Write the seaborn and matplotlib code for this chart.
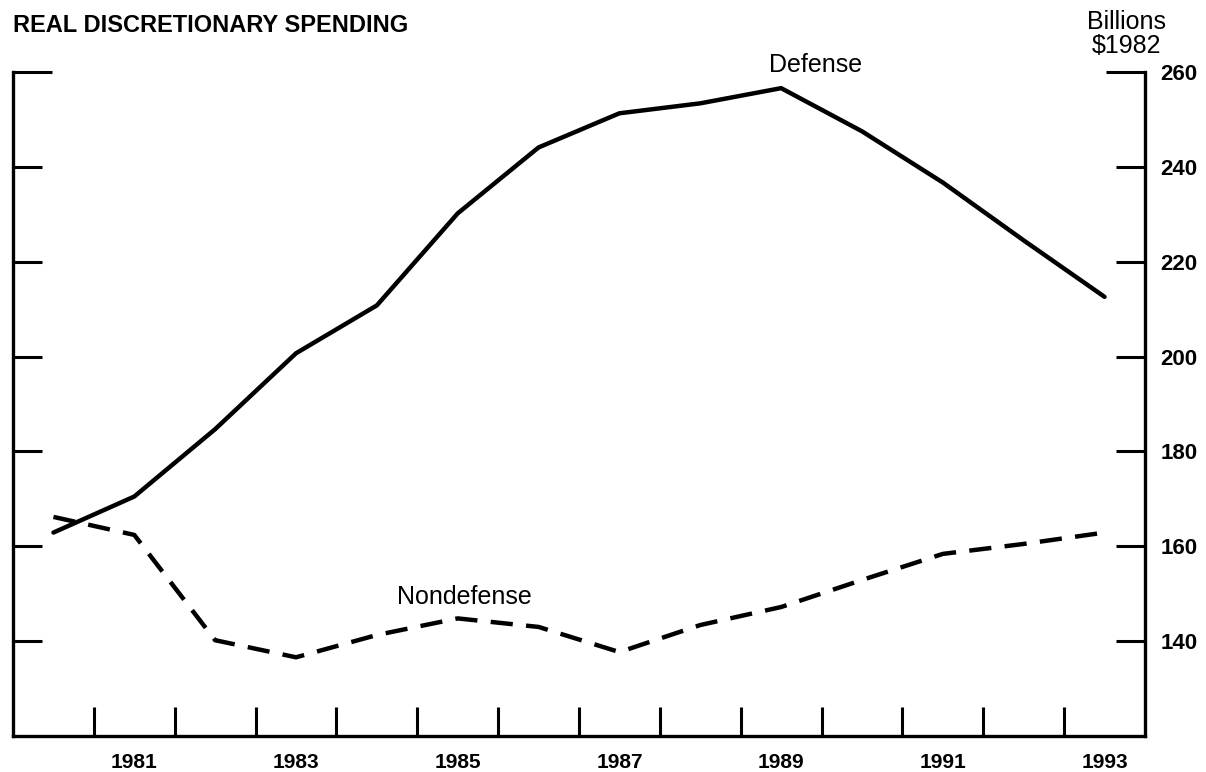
import numpy as np
import pandas as pd
import seaborn as sns
import matplotlib.pyplot as plt
from matplotlib.ticker import FixedLocator, NullFormatter

years = list(range(1980, 1994))
defense = [162.9, 170.5, 184.7, 200.7, 210.8, 230.2, 244.1, 251.3, 253.4, 256.6, 247.5, 236.7, 224.5, 212.6]
nondefense = [166.2, 162.4, 140.2, 136.6, 141.3, 144.8, 143.0, 137.7, 143.4, 147.2, 152.9, 158.4, 160.5, 162.9]
year_labels = ['1981', '1983', '1985', '1987', '1989', '1991', '1993']
y_ticks = [140, 160, 180, 200, 220, 240]
y_top = 260

sns.set_style('ticks')
plt.rcParams['font.family'] = ['Liberation Sans', 'DejaVu Sans']
plt.rcParams['text.color'] = 'black'
plt.rcParams['xtick.color'] = 'black'
plt.rcParams['ytick.color'] = 'black'

# plot each fiscal year at the middle of its span
df = pd.DataFrame({
    'Year': [y + 0.5 for y in years] * 2,
    'Value': defense + nondefense,
    'Series': ['Defense'] * len(years) + ['Nondefense'] * len(years),
})

fig = plt.figure(figsize=(12.06, 7.72), dpi=100)
ax = fig.add_axes([0.0108, 0.0466, 0.9386, 0.8601])

sns.lineplot(data=df, x='Year', y='Value', hue='Series', style='Series',
             palette={'Defense': 'black', 'Nondefense': 'black'},
             dashes={'Defense': '', 'Nondefense': (5, 3)},
             linewidth=3.2, legend=False, ax=ax)

ax.set_xlim(1980, 1994)
ax.set_ylim(120, 260)
ax.set_xlabel('')
ax.set_ylabel('')

for side in ['left', 'right', 'bottom']:
    ax.spines[side].set_linewidth(2.4)
    ax.spines[side].set_color('black')
ax.spines['top'].set_visible(False)

# x: tick marks at year boundaries, labels centred on odd years
ax.xaxis.set_major_locator(FixedLocator(list(range(1981, 1994))))
ax.xaxis.set_major_formatter(NullFormatter())
ax.xaxis.set_minor_locator(FixedLocator([int(s) + 0.5 for s in year_labels]))
ax.set_xticklabels(year_labels, minor=True)
ax.tick_params(axis='x', which='major', direction='in', length=21, width=2.2)
ax.tick_params(axis='x', which='minor', length=0, pad=12, labelsize=15)
for lab in ax.get_xticklabels(minor=True):
    lab.set_fontweight('bold')

# y: ticks on both sides pointing in, labels only on the right
ax.yaxis.set_ticks_position('both')
ax.set_yticks(y_ticks)
ax.set_yticks([y_top], minor=True)
ax.set_yticklabels([str(v) for v in y_ticks])
ax.set_yticklabels([str(y_top)], minor=True)
ax.tick_params(axis='y', which='both', direction='in', width=2.2,
               labelleft=False, labelright=True, pad=11, labelsize=16)
ax.tick_params(axis='y', which='major', length=21)
ax.tick_params(axis='y', which='minor', length=28)
for lab in ax.get_yticklabels() + ax.get_yticklabels(minor=True):
    lab.set_fontweight('bold')

ax.text(1989.92, 261.5, 'Defense', ha='center', va='center', fontsize=18, clip_on=False)
ax.text(1985.58, 149.3, 'Nondefense', ha='center', va='center', fontsize=18)

fig.text(0.0108, 0.9676, 'REAL DISCRETIONARY SPENDING', ha='left', va='center',
         fontsize=17, fontweight='bold')
fig.text(0.9337, 0.9715, 'Billions', ha='center', va='center', fontsize=18)
fig.text(0.9337, 0.940, '$1982', ha='center', va='center', fontsize=18)

fig.savefig('out.png', dpi=100)
